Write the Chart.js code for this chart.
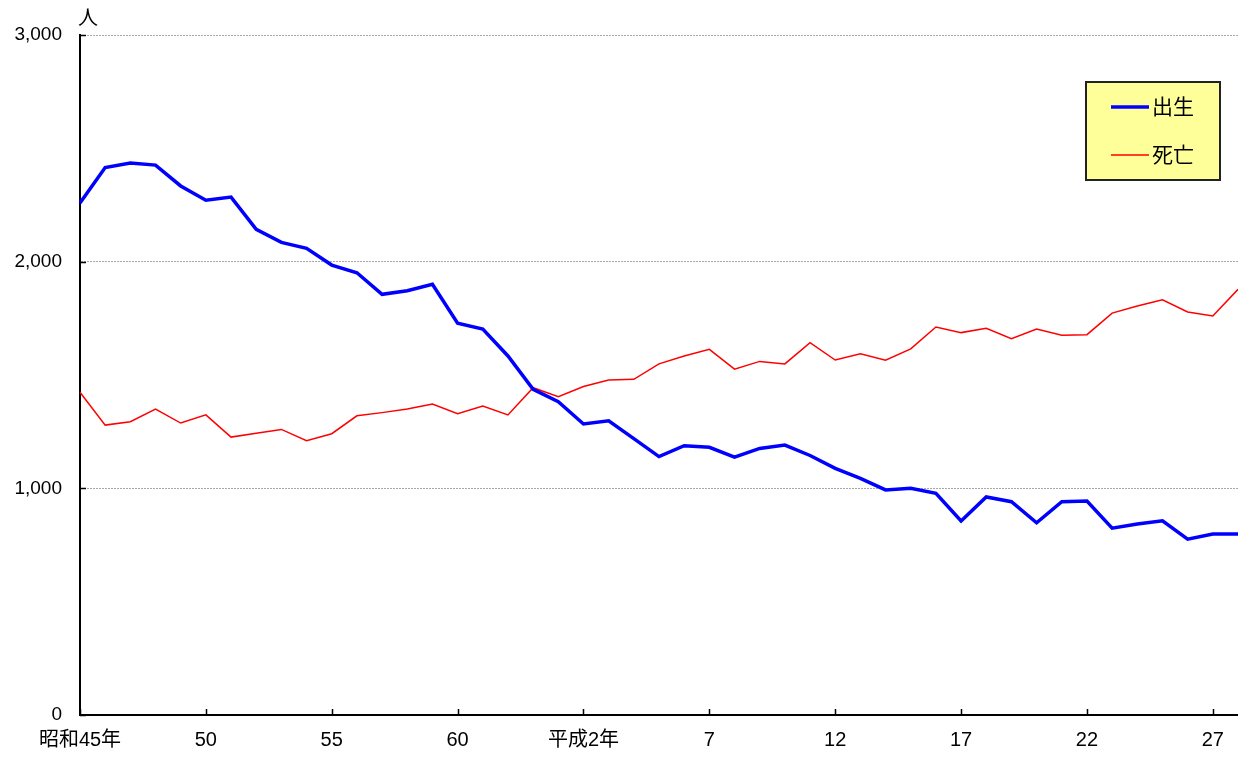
<!DOCTYPE html>
<html>
<head>
<meta charset="utf-8">
<script src="https://cdn.jsdelivr.net/npm/chart.js@4.4.1/dist/chart.umd.min.js"></script>
<style>
  html, body { margin: 0; padding: 0; background: #fff; }
  #wrap { width: 1238px; height: 758px; position: relative; }
</style>
</head>
<body>
<div id="wrap"><canvas id="c" width="1238" height="758"></canvas></div>
<script>
const categories = [
  '昭和45年','46','47','48','49','50','51','52','53','54',
  '55','56','57','58','59','60','61','62','63','平成元年',
  '平成2年','3','4','5','6','7','8','9','10','11',
  '12','13','14','15','16','17','18','19','20','21',
  '22','23','24','25','26','27','28'
];
const tickLabels = ['昭和45年','50','55','60','平成2年','7','12','17','22','27'];
const births = [
  2259, 2415, 2435, 2426, 2334, 2271, 2285, 2143, 2085, 2059,
  1985, 1951, 1856, 1872, 1900, 1728, 1703, 1584, 1437, 1382,
  1284, 1298, 1219, 1140, 1188, 1181, 1138, 1176, 1191, 1145,
  1088, 1044, 993, 1000, 978, 856, 962, 941, 848, 941,
  944, 824, 843, 857, 776, 798, 798
];
const deaths = [
  1424, 1279, 1294, 1350, 1288, 1324, 1226, 1243, 1260, 1210,
  1241, 1320, 1334, 1350, 1372, 1329, 1363, 1324, 1444, 1404,
  1449, 1478, 1481, 1549, 1584, 1613, 1526, 1560, 1549, 1643,
  1566, 1594, 1565, 1615, 1712, 1687, 1706, 1660, 1703, 1675,
  1678, 1773, 1804, 1832, 1778, 1760, 1878
];
const seriesNames = ['出生', '死亡'];
const unitLabel = '人';
const yTicks = [0, 1000, 2000, 3000];

const FONT = '"Liberation Sans", "Noto Sans CJK JP", sans-serif';

const extras = {
  id: 'extras',
  afterDraw(chart) {
    const ctx = chart.ctx;
    const xs = chart.scales.x, ys = chart.scales.y;
    const area = chart.chartArea;
    ctx.save();
    ctx.setLineDash([]);
    ctx.strokeStyle = '#000';
    ctx.lineWidth = 1.5;
    categories.forEach((c, i) => {
      if (tickLabels.includes(c)) {
        const x = Math.round(xs.getPixelForValue(i)) + 0.5;
        ctx.beginPath();
        ctx.moveTo(x, area.bottom);
        ctx.lineTo(x, area.bottom - 6);
        ctx.stroke();
      }
    });
    yTicks.forEach(v => {
      const y = Math.round(ys.getPixelForValue(v)) + 0.5;
      ctx.beginPath();
      ctx.moveTo(area.left, y);
      ctx.lineTo(area.left + 6, y);
      ctx.stroke();
    });
    ctx.fillStyle = '#000';
    ctx.font = '20px ' + FONT;
    ctx.textAlign = 'center';
    ctx.textBaseline = 'middle';
    ctx.fillText(unitLabel, area.left + 8, 19);
    const bx = 1086, by = 82, bw = 134, bh = 98;
    ctx.fillStyle = '#FFFF99';
    ctx.fillRect(bx, by, bw, bh);
    ctx.lineWidth = 2;
    ctx.strokeStyle = '#222';
    ctx.strokeRect(bx, by, bw, bh);
    chart.data.datasets.forEach((ds, i) => {
      const y = by + 25 + i * 48;
      ctx.strokeStyle = ds.borderColor;
      ctx.lineWidth = ds.borderWidth;
      ctx.beginPath();
      ctx.moveTo(bx + 25, y);
      ctx.lineTo(bx + 63, y);
      ctx.stroke();
      ctx.fillStyle = '#000';
      ctx.font = '21px ' + FONT;
      ctx.textAlign = 'left';
      ctx.textBaseline = 'middle';
      ctx.fillText(ds.label, bx + 66, y + 1);
    });
    ctx.restore();
  }
};

new Chart(document.getElementById('c'), {
  type: 'line',
  data: {
    labels: categories,
    datasets: [
      { label: seriesNames[0], data: births, borderColor: '#0000FF', borderWidth: 3.5,
        pointRadius: 0, tension: 0, fill: false },
      { label: seriesNames[1], data: deaths, borderColor: '#FF0000', borderWidth: 1.5,
        pointRadius: 0, tension: 0, fill: false }
    ]
  },
  options: {
    responsive: false,
    animation: false,
    layout: { padding: { top: 35, right: 0, left: 0, bottom: 0 } },
    plugins: { legend: { display: false }, tooltip: { enabled: false } },
    scales: {
      x: {
        offset: false,
        grid: { display: false, drawTicks: false },
        border: { display: true, color: '#000', width: 2 },
        ticks: {
          autoSkip: false, maxRotation: 0, padding: 13,
          color: '#000', font: { family: FONT, size: 20 },
          callback: function(v, i) { return tickLabels.includes(categories[i]) ? categories[i] : ''; }
        },
        afterFit: s => { s.height = 43; s.paddingRight = 0; s.paddingLeft = 0; }
      },
      y: {
        min: 0, max: 3000,
        grid: {
          drawTicks: false,
          color: ctx => ctx.tick && ctx.tick.value === 0 ? 'rgba(0,0,0,0)' : '#a8a8a8',
          lineWidth: 1
        },
        border: { display: true, color: '#000', width: 2, dash: [2, 1] },
        ticks: {
          stepSize: 1000, padding: 18, color: '#000',
          font: { family: FONT, size: 19 },
          callback: v => v.toLocaleString('en-US')
        },
        afterFit: s => { s.width = 80; s.paddingTop = 0; s.paddingBottom = 0; }
      }
    }
  },
  plugins: [extras]
});
</script>
</body>
</html>
